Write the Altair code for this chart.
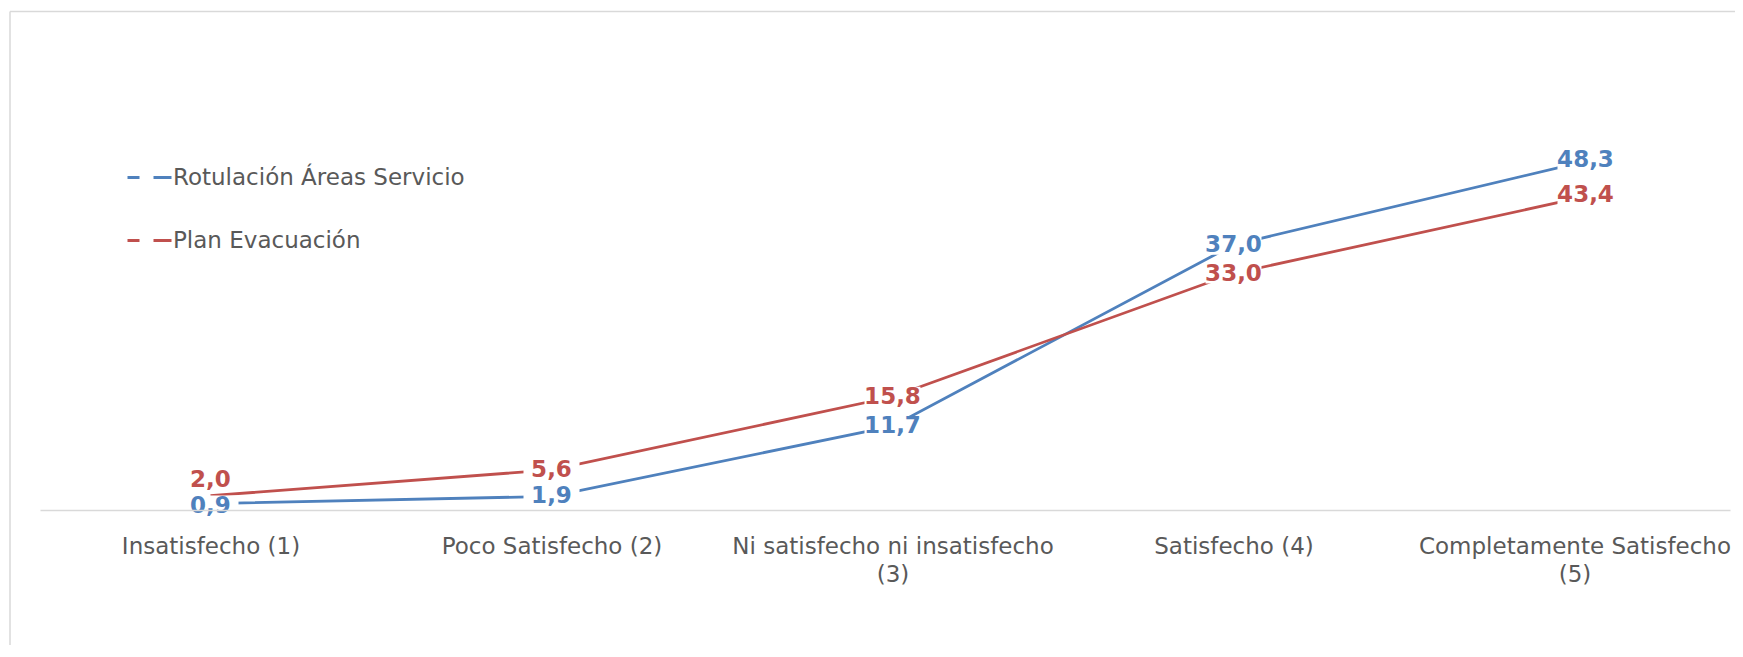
import altair as alt
import pandas as pd

# ---- data ----
categories = [
    "Insatisfecho (1)",
    "Poco Satisfecho (2)",
    "Ni satisfecho ni insatisfecho (3)",
    "Satisfecho (4)",
    "Completamente Satisfecho (5)",
]
series_names = ["Rotulación Áreas Servicio", "Plan Evacuación"]
rotulacion = [0.9, 1.9, 11.7, 37.0, 48.3]
plan = [2.0, 5.6, 15.8, 33.0, 43.4]
colors = ["#4F81BD", "#C0504D"]

rows = []
for s, vals in zip(series_names, [rotulacion, plan]):
    for c, v in zip(categories, vals):
        rows.append({"cat": c, "serie": s, "valor": v})
df = pd.DataFrame(rows)

W, H = 1690, 430
FONT = "DejaVu Sans"
GRAY = "#595959"

x_enc = alt.X(
    "cat:N",
    sort=categories,
    scale=alt.Scale(type="point", padding=0.478, align=0.523),
    axis=alt.Axis(
        title=None,
        ticks=False,
        grid=False,
        domainColor="#D9D9D9",
        domainWidth=1.5,
        labelAngle=0,
        labelFont=FONT,
        labelFontSize=23,
        labelColor=GRAY,
        labelPadding=25,
        labelLineHeight=28,
        labelOverlap=False,
        labelLimit=500,
        zindex=1,
        labelExpr="length(datum.label) > 20 ? [substring(datum.label, 0, lastindexof(datum.label, ' ')), substring(datum.label, lastindexof(datum.label, ' ') + 1)] : datum.label",
    ),
)
y_enc = alt.Y("valor:Q", scale=alt.Scale(domain=[0, 60], nice=False), axis=None)
color_scale = alt.Scale(domain=series_names, range=colors)

base = alt.Chart(df)

lines = base.mark_line(strokeWidth=2.8).encode(
    x=x_enc,
    y=y_enc,
    color=alt.Color(
        "serie:N",
        sort=series_names,
        scale=color_scale,
        legend=alt.Legend(
            title=None,
            orient="none",
            legendX=86,
            legendY=74,
            padding=0,
            symbolType="stroke",
            symbolSize=1936,
            symbolStrokeWidth=3,
            symbolDash=[12, 14, 18, 100],
            labelFont=FONT,
            labelFontSize=23,
            labelColor=GRAY,
            labelLimit=500,
            labelOffset=0,
            rowPadding=27,
        ),
    ),
)

BOX = "M-2.8,-1L2.8,-1L2.8,1L-2.8,1Z"


def label_layers(filter_expr, dx=0, dy=0):
    b = base.transform_calculate(
        lbl="replace(format(datum.valor, '.1f'), '.', ',')"
    ).transform_filter(filter_expr)
    box = b.mark_point(
        shape=BOX, filled=True, color="white", opacity=1, size=400,
        strokeWidth=0, xOffset=dx, yOffset=dy,
    ).encode(x=x_enc, y=y_enc)
    txt = b.mark_text(
        font=FONT, fontWeight="bold", fontSize=23, align="center",
        baseline="middle", dx=dx, dy=dy,
    ).encode(
        x=x_enc,
        y=y_enc,
        text="lbl:N",
        color=alt.Color("serie:N", scale=color_scale, legend=None),
    )
    return [box, txt]


first_red = f"datum.serie == '{series_names[1]}' && datum.cat == '{categories[0]}'"
first_blue = f"datum.serie == '{series_names[0]}' && datum.cat == '{categories[0]}'"
last_cat = f"datum.cat == '{categories[-1]}'"
general = f"datum.cat != '{categories[0]}' && !({last_cat})"

frame_df = pd.DataFrame({"a": [0]})
frame_left = alt.Chart(frame_df).mark_rule(color="#D9D9D9", strokeWidth=1.5).encode(
    x=alt.value(-30), y=alt.value(-68.5), y2=alt.value(H + 150)
)
frame_top = alt.Chart(frame_df).mark_rule(color="#D9D9D9", strokeWidth=1.5).encode(
    x=alt.value(-30), x2=alt.value(W + 30), y=alt.value(-68.5)
)

layers = [frame_left, frame_top, lines]
layers += label_layers(general)
layers += label_layers(first_blue, dy=2)
layers += label_layers(first_red, dy=-16)
layers += label_layers(last_cat, dx=11, dy=-4)

chart = (
    alt.layer(*layers)
    .properties(
        width=W,
        height=H,
        autosize=alt.AutoSizeParams(type="none"),
        padding={"left": 32, "top": 72, "right": 5, "bottom": 135},
        background="white",
    )
    .configure_view(stroke=None)
)

chart.save("out.html", embed_options={"renderer": "svg", "actions": False})
